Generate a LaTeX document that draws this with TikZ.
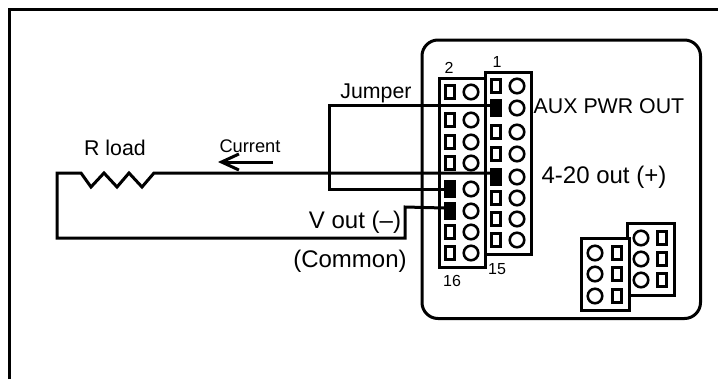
\documentclass[tikz,border=0pt]{standalone}
\usepackage{fontspec}
\setmainfont{Liberation Sans}
\usetikzlibrary{arrows.meta}

\begin{document}
\begin{tikzpicture}
                [x=0.75pt, y=-0.75pt,
                 wire/.style = {line width=2.25pt, line join=miter},
                 pinbox/.style = {draw, line width=1.9pt, inner sep=0, minimum width=6.4pt, minimum height=10pt, fill=white},
                 pinblack/.style = {pinbox, fill=black, minimum width=7pt, minimum height=11pt},
                 hole/.style = {draw, circle, line width=1.9pt, inner sep=0, minimum size=10.9pt},
                 big/.style = {inner sep=0, anchor=base, font=\fontsize{18}{20}\selectfont},
                 mid/.style = {inner sep=0, anchor=base, font=\fontsize{16}{18}\selectfont},
                 tiny/.style = {inner sep=0, anchor=base, font=\fontsize{12}{14}\selectfont}]

                \useasboundingbox (0,0) rectangle (718,379);

                % frame and panel
                \draw[wire] (9.5,379) -- (9.5,9.5) -- (718,9.5);
                \draw[wire, rounded corners=12pt] (422,40) rectangle (700.5,318.5);

                % main header
                \draw[wire, fill=white] (439,78) rectangle (485,267);
                \draw[wire, fill=white] (485,72) rectangle (531,254);
                \foreach \n/\y/\s in {1/92/pinbox, 2/120/pinbox, 3/142/pinbox, 4/163/pinbox, 5/189/pinblack, 6/211/pinblack, 7/232/pinbox, 8/253/pinbox} {
                    \node[\s] (l\n) at (450,\y) {};
                    \node[hole] (lh\n) at (471,\y) {};
                }
                \foreach \n/\y/\s in {1/86/pinbox, 2/108/pinblack, 3/132/pinbox, 4/154/pinbox, 5/177/pinblack, 6/198/pinbox, 7/219/pinbox, 8/240/pinbox} {
                    \node[\s] (r\n) at (496,\y) {};
                    \node[hole] (rh\n) at (517,\y) {};
                }

                % small header
                \draw[wire, fill=white] (627,223) rectangle (674,295);
                \draw[wire, fill=white] (581,238) rectangle (629,310);
                \foreach \n/\y in {1/238, 2/259, 3/280} {
                    \node[hole] (bh\n) at (641,\y) {};
                    \node[pinbox] (b\n) at (662,\y) {};
                }
                \foreach \n/\y in {1/253, 2/274, 3/296} {
                    \node[hole] (ah\n) at (595,\y) {};
                    \node[pinbox] (a\n) at (617,\y) {};
                }

                \coordinate (jt) at (329,105);
                \coordinate (jb) at (329,189);
                \coordinate (vt) at (405,207);
                \coordinate (vb) at (405,238);
                \coordinate (lb) at (57,238);
                \coordinate (lt) at (57,173);
                \coordinate (rl) at (81,173);
                \coordinate (rr) at (154,173);
                \coordinate (cs) at (273,162);
                \coordinate (ce) at (218,162);

                \draw[wire] ([yshift=2.25pt]r2.west) -- (jt) -- (jb) -- (l5.west);
                \draw[wire] ([yshift=2.25pt]l6.west) -- (vt) -- (vb) -- (lb) -- (lt) -- (rl)
                    -- ++(10,14) -- ++(13,-14) -- ++(13,14) -- ++(12,-14) -- ++(13,14) -- (rr)
                    -- ([yshift=3pt]r5.west);
                \draw[wire, -{Straight Barb[length=13pt, width=12pt]}] (cs) -- (ce);

                % labels
                \node[mid] (rload) at (115,155) {R load};
                \node[tiny, font=\fontsize{13.7}{15}\selectfont] (current) at (250,152) {Current};
                \node[mid] (jumper) at (376,98) {Jumper};
                \node[big] (vout) at (355,228) {V out (–)};
                \node[big] (common) at (350,267) {(Common)};
                \node[mid] (aux) at (609,113) {AUX PWR OUT};
                \node[big] (out) at (604,183) {4-20 out (+)};
                \node[tiny] (one) at (497,67) {1};
                \node[tiny] (two) at (449,73) {2};
                \node[tiny] (fifteen) at (497,274) {15};
                \node[tiny] (sixteen) at (452,286) {16};
            \end{tikzpicture}
\end{document}
